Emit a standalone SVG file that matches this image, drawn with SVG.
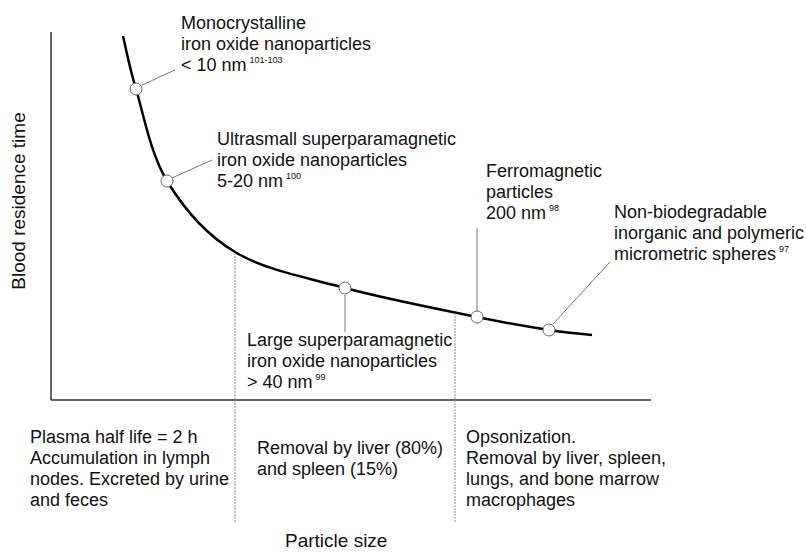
<svg xmlns="http://www.w3.org/2000/svg" width="806" height="553" viewBox="0 0 806 553">
<style>
text{font-family:"Liberation Sans",Arial,sans-serif;fill:#111;}
.lbl{font-size:18px;}
.sup{font-size:9px;}
.ax{stroke:#333;stroke-width:1.5;fill:none;}
.curve{stroke:#000;stroke-width:2.5;fill:none;}
.lead{stroke:#777;stroke-width:1;fill:none;}
.div{stroke:#888;stroke-width:1;stroke-dasharray:2 1;fill:none;}
.pt{fill:#fff;stroke:#666;stroke-width:1;}
</style>
<rect width="806" height="553" fill="#fff"/>
<g id="axes">
<line class="ax" x1="51" y1="32" x2="51" y2="400"/>
<line class="ax" x1="51" y1="400" x2="651" y2="400"/>
<text transform="translate(25,201) rotate(-90)" text-anchor="middle" style="font-size:19px">Blood residence time</text>
<text x="285" y="547" style="font-size:19px">Particle size</text>
</g>
<g id="connectors">
<path class="curve" d="M123,36 C125.2,44.8 128.7,64.8 136,89 C143.3,113.2 150.5,153.8 167,181 C183.5,208.2 205.3,234.2 235,252 C264.7,269.8 304.7,277.2 345,288 C385.3,298.8 443,310 477,317 C511,324 529.8,327 549,330 C568.2,333 584.8,334.2 592,335"/>
<line class="div" x1="235" y1="253" x2="235" y2="522"/>
<line class="div" x1="455" y1="313" x2="455" y2="522"/>
<line class="lead" x1="142" y1="85" x2="175" y2="70"/>
<line class="lead" x1="172" y1="178" x2="212" y2="160"/>
<line class="lead" x1="345" y1="295" x2="345" y2="332"/>
<line class="lead" x1="477" y1="228" x2="477" y2="311"/>
<line class="lead" x1="553" y1="324" x2="610" y2="262"/>
</g>
<g id="n1">
<circle class="pt" cx="136" cy="89" r="6"/>
<text class="lbl" x="181" y="29">Monocrystalline</text>
<text class="lbl" x="181" y="50">iron oxide nanoparticles</text>
<text class="lbl" x="181" y="71">&lt; 10 nm<tspan class="sup" dx="3" dy="-8">101-103</tspan></text>
</g>
<g id="n2">
<circle class="pt" cx="167" cy="181" r="6"/>
<text class="lbl" x="217" y="145">Ultrasmall superparamagnetic</text>
<text class="lbl" x="217" y="166">iron oxide nanoparticles</text>
<text class="lbl" x="217" y="187">5-20 nm<tspan class="sup" dx="3" dy="-8">100</tspan></text>
</g>
<g id="n3">
<circle class="pt" cx="345" cy="288" r="6"/>
<text class="lbl" x="247" y="346">Large superparamagnetic</text>
<text class="lbl" x="247" y="367">iron oxide nanoparticles</text>
<text class="lbl" x="247" y="388">&gt; 40 nm<tspan class="sup" dx="3" dy="-8">99</tspan></text>
</g>
<g id="n4">
<circle class="pt" cx="477" cy="317" r="6"/>
<text class="lbl" x="486" y="177">Ferromagnetic</text>
<text class="lbl" x="486" y="198">particles</text>
<text class="lbl" x="486" y="219">200 nm<tspan class="sup" dx="3" dy="-8">98</tspan></text>
</g>
<g id="n5">
<circle class="pt" cx="549" cy="330" r="6"/>
<text class="lbl" x="614" y="218">Non-biodegradable</text>
<text class="lbl" x="614" y="239">inorganic and polymeric</text>
<text class="lbl" x="614" y="260">micrometric spheres<tspan class="sup" dx="3" dy="-8">97</tspan></text>
</g>
<g id="zone1">
<text class="lbl" x="30" y="443">Plasma half life = 2 h</text>
<text class="lbl" x="30" y="464">Accumulation in lymph</text>
<text class="lbl" x="30" y="485">nodes. Excreted by urine</text>
<text class="lbl" x="30" y="506">and feces</text>
</g>
<g id="zone2">
<text class="lbl" x="257" y="454">Removal by liver (80%)</text>
<text class="lbl" x="257" y="475">and spleen (15%)</text>
</g>
<g id="zone3">
<text class="lbl" x="466" y="443">Opsonization.</text>
<text class="lbl" x="466" y="464">Removal by liver, spleen,</text>
<text class="lbl" x="466" y="485">lungs, and bone marrow</text>
<text class="lbl" x="466" y="506">macrophages</text>
</g>
</svg>
